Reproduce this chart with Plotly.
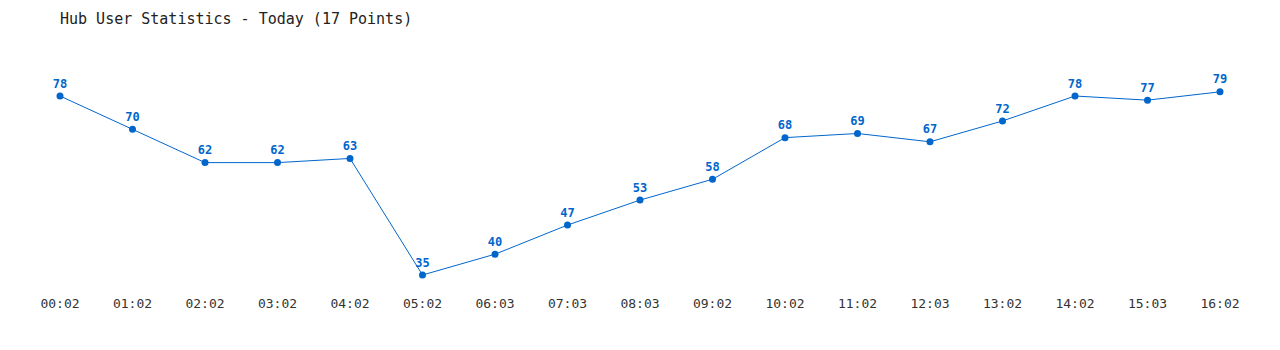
import plotly.graph_objects as go

times = ["00:02", "01:02", "02:02", "03:02", "04:02", "05:02", "06:03", "07:03", "08:03",
         "09:02", "10:02", "11:02", "12:03", "13:02", "14:02", "15:03", "16:02"]
users = [78, 70, 62, 62, 63, 35, 40, 47, 53, 58, 68, 69, 67, 72, 78, 77, 79]

blue = "#0066cc"
fig = go.Figure()
fig.add_trace(go.Scatter(
    x=list(range(len(times))), y=users,
    mode="lines+markers+text",
    line=dict(color=blue, width=1),
    marker=dict(color=blue, size=7),
    text=[str(v) for v in users],
    textposition="top center",
    textfont=dict(family="DejaVu Sans Mono", size=12, color=blue, weight="bold"),
    cliponaxis=False,
    hoverinfo="x+y",
    showlegend=False,
))
fig.update_layout(
    width=1280, height=350,
    margin=dict(l=60, r=60, t=50, b=60),
    paper_bgcolor="white", plot_bgcolor="white",
    title=dict(text="Hub User Statistics - Today (17 Points)", x=60/1280, xanchor="left",
               y=1 - 19/350, yanchor="middle",
               font=dict(family="DejaVu Sans Mono", size=15, color="#222")),
    xaxis=dict(range=[0, 16], tickmode="array", tickvals=list(range(len(times))), ticktext=times,
               showgrid=False, zeroline=False, showline=False, ticks="",
               ticklabelstandoff=4,
               tickfont=dict(family="DejaVu Sans Mono", size=13, color="#333"), fixedrange=True),
    yaxis=dict(range=[31.4, 89.05], showgrid=False, zeroline=False, showline=False,
               showticklabels=False, fixedrange=True),
)
fig.write_html("out.html")
